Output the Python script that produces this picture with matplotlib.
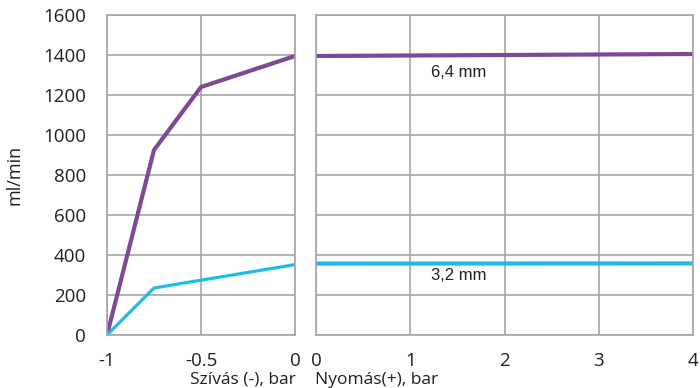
import matplotlib.pyplot as plt

plt.rcParams['font.family'] = ['Open Sans', 'DejaVu Sans']

# suction side (negative pressure, bar)
suction_x = [-1, -0.75, -0.5, 0]
suction_64 = [0, 925, 1240, 1395]
suction_32_x = [-1, -0.75, 0]
suction_32_y = [0, 235, 352]

# pressure side (bar)
pressure_x = [0, 4]
pressure_64 = [1395, 1405]
pressure_32 = [357, 358]

yticks = [0, 200, 400, 600, 800, 1000, 1200, 1400, 1600]

purple = '#7e4896'
cyan = '#1bbde8'
grid_c = '#a3a5a8'
txt_c = '#231f20'

fig = plt.figure(figsize=(7, 3.88), dpi=100)
ax1 = fig.add_axes([107 / 700, 53 / 388, 188 / 700, 320 / 388])
ax2 = fig.add_axes([316 / 700, 53 / 388, 377 / 700, 320 / 388])

ax1.plot(suction_x, suction_64, color=purple, lw=3, solid_capstyle='butt')
ax1.plot(suction_32_x, suction_32_y, color=cyan, lw=2.3, solid_capstyle='butt')
ax2.plot(pressure_x, pressure_64, color=purple, lw=3, solid_capstyle='butt')
ax2.plot(pressure_x, pressure_32, color=cyan, lw=3, solid_capstyle='butt')

ax1.set_xlim(-1, 0)
ax2.set_xlim(0, 4)
for ax in (ax1, ax2):
    ax.set_ylim(0, 1600)
    ax.set_yticks(yticks)
    ax.grid(True, color=grid_c, lw=1.2)
    ax.set_axisbelow(True)
    for s in ax.spines.values():
        s.set_color(grid_c)
        s.set_linewidth(1.2)
    ax.tick_params(length=0, labelsize=13.5, colors=txt_c, pad=12)

ax1.set_xticks([-1, -0.5, 0])
ax1.set_xticklabels(['-1', '-0.5', '0'])
ax1.tick_params(axis='y', pad=15)
ax2.set_xticks([0, 1, 2, 3, 4])
ax2.set_yticklabels([])
ax2.tick_params(axis='y', left=False)

ax1.set_ylabel('ml/min', fontsize=13, color=txt_c, labelpad=14)

fig.text(296 / 700, 1 - 380 / 388, 'Szívás (-), bar', ha='right', va='center',
         fontsize=12.5, color=txt_c)
fig.text(315 / 700, 1 - 380 / 388, 'Nyomás(+), bar', ha='left', va='center',
         fontsize=12.5, color=txt_c)

ax2.text(1.22, 1315, '6,4 mm', family='Liberation Sans', fontsize=12, color=txt_c,
         va='center')
ax2.text(1.22, 295, '3,2 mm', family='Liberation Sans', fontsize=12, color=txt_c,
         va='center')

fig.savefig('out.png', dpi=100)
